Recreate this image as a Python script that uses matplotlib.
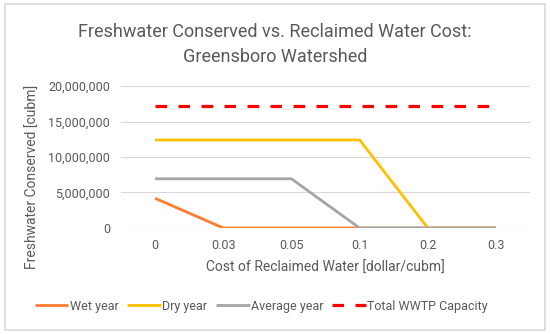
import matplotlib.pyplot as plt
from matplotlib.patches import Rectangle
from matplotlib.ticker import FuncFormatter

plt.rcParams['font.family'] = ['Roboto', 'DejaVu Sans']

costs = ["0", "0.03", "0.05", "0.1", "0.2", "0.3"]
wet_year = [4180000, 0, 0, 0, 0, 0]
dry_year = [12400000, 12400000, 12400000, 12400000, 0, 0]
average_year = [6930000, 6930000, 6930000, 0, 0, 0]
wwtp_capacity = [17150000] * 6

text_col = "#595959"

fig = plt.figure(figsize=(5.5, 3.34), dpi=100)
fig.patches.append(Rectangle((0.009, 0.012), 0.982, 0.976, transform=fig.transFigure,
                             fill=False, edgecolor="#d9d9d9", lw=1.2))
ax = fig.add_axes([0.22, 0.3174, 0.7436, 0.4251])

x = range(len(costs))
ax.plot(x, wet_year, color="#FF7C30", lw=2.0, label="Wet year", solid_capstyle="butt")
ax.plot(x, dry_year, color="#FFC000", lw=2.0, label="Dry year", solid_capstyle="butt")
ax.plot(x, average_year, color="#A5A5A5", lw=2.0, label="Average year", solid_capstyle="butt")
ax.plot(x, wwtp_capacity, color="#FF0000", lw=2.3, dashes=(3.6, 3.6), label="Total WWTP Capacity")

ax.set_xlim(-0.5, len(costs) - 0.5)
ax.set_ylim(0, 20000000)
ax.set_yticks(range(0, 20000001, 5000000))
ax.yaxis.set_major_formatter(FuncFormatter(lambda v, p: f"{int(v):,}"))
ax.set_xticks(list(x))
ax.set_xticklabels(costs)
ax.grid(axis="y", color="#d9d9d9", lw=0.8)
ax.set_axisbelow(True)
for s in ax.spines.values():
    s.set_visible(False)
ax.tick_params(length=0, colors=text_col, labelsize=9, pad=8)
ax.tick_params(axis="y", pad=8)

ax.set_xlabel("Cost of Reclaimed Water [dollar/cubm]", color=text_col, fontsize=10, labelpad=6)
ax.set_ylabel("Freshwater Conserved [cubm]", color=text_col, fontsize=10)
ax.yaxis.set_label_coords(-0.198, 0.36)

fig.text(0.5, 0.905, "Freshwater Conserved vs. Reclaimed Water Cost:", ha="center", va="center",
         color=text_col, fontsize=13)
fig.text(0.5, 0.83, "Greensboro Watershed", ha="center", va="center", color=text_col, fontsize=13)

fig.legend(loc="center", bbox_to_anchor=(0.475, 0.083), ncol=4, frameon=False, fontsize=9,
           labelcolor=text_col, handlelength=2.7, handletextpad=0.1, columnspacing=0.7)

fig.savefig("out.png", dpi=100)
